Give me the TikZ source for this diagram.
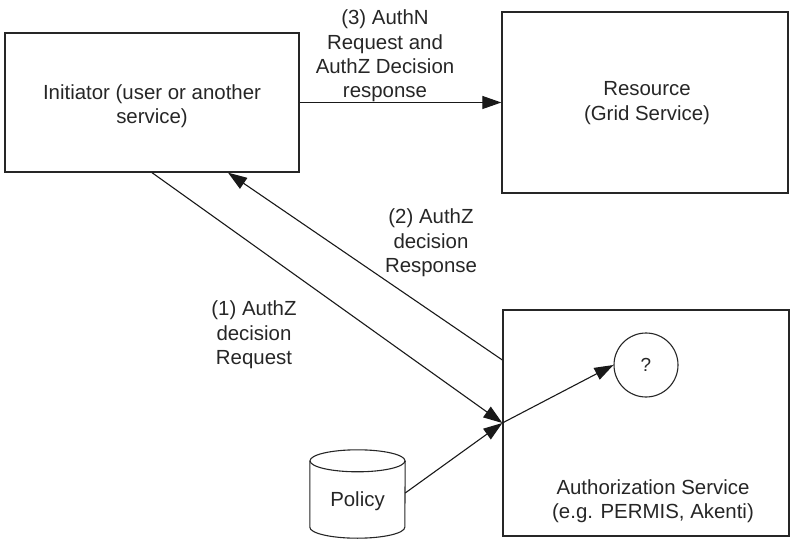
\documentclass[tikz,border=0pt]{standalone}
\usepackage{fontspec}
\setmainfont{Liberation Sans}
\usetikzlibrary{arrows.meta,calc}
\begin{document}
\begin{tikzpicture}[x=1bp,y=-1bp,
  font=\fontsize{20.5}{24.5}\selectfont,
  box/.style={draw=black!85, line width=1.3bp, rectangle, inner sep=0pt},
  lbl/.style={align=center, text=black!85, inner sep=0pt},
  conn/.style={draw=black!90, line width=1.1bp},
  arr/.style={conn, -{Triangle[length=19bp,width=13bp]}}]
\useasboundingbox (0,0) rectangle (792,539);

% main boxes
\node[box, minimum width=294bp, minimum height=139bp] (init) at (152,102.5) {};
\node[lbl] (inittxt) at (152,106) {Initiator (user or another\\service)};

\node[box, minimum width=286bp, minimum height=181bp] (res) at (645,102.5) {};
\node[lbl] (restxt) at (647,103) {Resource\\(Grid Service)};

\node[box, minimum width=286bp, minimum height=226bp] (authz) at (646,423) {};
\node[lbl] (authztxt) at (653,501) {Authorization Service\\(e.g. PERMIS, Akenti)};

% decision point
\node[draw=black!85, line width=1.1bp, circle, minimum size=64bp, inner sep=0pt,
      text=black!85, font=\fontsize{19}{22}\selectfont] (q) at (646,365) {?};

% policy store: a cylinder drawn over the frame of its node
\node[minimum width=95bp, minimum height=88bp, inner sep=0pt] (pol) at (357.5,494) {};
\draw[draw=black!85, line width=1.1bp]
  ($(pol.north west)+(0,11)$) -- ($(pol.south west)+(0,-11)$)
  arc[start angle=180, end angle=0, x radius=47.5, y radius=11]
  -- ($(pol.north east)+(0,11)$);
\draw[draw=black!85, line width=1.1bp]
  ($(pol.north)+(0,11)$) ellipse[x radius=47.5, y radius=11];
\node[lbl] (poltxt) at (357.5,501) {Policy};

% attachment points
\coordinate (rq) at (authz.west);
\coordinate (rs) at ($(authz.west)+(0,-63)$);
\coordinate (ib) at ($(init.south)+(76,0)$);
\coordinate (pe) at ($(pol.east)+(0,-1)$);

% connectors
\draw[arr] (init.east) -- (res.west);
\draw[arr] (init.south) -- (rq);
\draw[arr] (rs) -- (ib);
\draw[arr] (pe) -- (rq);
\draw[arr] (rq) -- (q.west);

% message labels
\node[lbl] (m3) at (385,56) {(3) AuthN\\Request and\\AuthZ Decision\\response};
\node[lbl] (m2) at (431,243) {(2) AuthZ\\decision\\Response};
\node[lbl] (m1) at (254,335) {(1) AuthZ\\decision\\Request};
\end{tikzpicture}
\end{document}
